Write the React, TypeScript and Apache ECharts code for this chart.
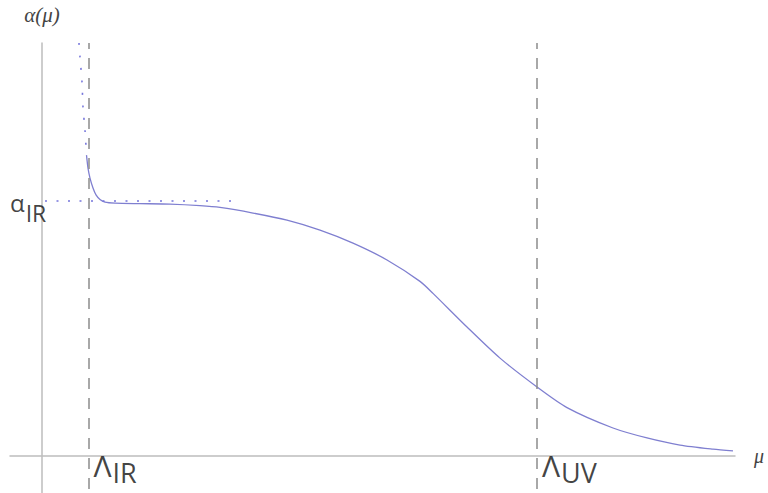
import React, { useEffect, useRef } from "react";
import * as echarts from "echarts";

// running coupling curve (mu in arbitrary units, alpha normalised to alpha_IR = 1)
const muCurve = [4.45, 4.6, 4.8, 5.1, 5.4, 5.8, 6.3, 7.3, 9.8, 12.8, 15.8, 17.8, 21.1, 24.5, 27.8, 31.1, 34.5, 37.8, 39.1, 42.5, 45.8, 49.5, 52.5, 57.1, 60.5, 63.8, 67.1, 69.1];
const alphaCurve = [1.18, 1.129, 1.09, 1.051, 1.024, 1.006, 0.996, 0.992, 0.99, 0.988, 0.982, 0.975, 0.953, 0.925, 0.886, 0.835, 0.769, 0.685, 0.638, 0.506, 0.384, 0.271, 0.19, 0.11, 0.071, 0.043, 0.027, 0.02];

// dotted continuation towards the IR
const muDotted = [3.7, 3.8, 4.0, 4.1, 4.3, 4.45];
const alphaDotted = [1.62, 1.565, 1.467, 1.369, 1.278, 1.18];

// alpha_IR plateau reference
const ALPHA_IR = 1;
const plateauMu = [0.3, 19.3];

// scales
const LAMBDA_IR = 4.65;
const LAMBDA_UV = 49.5;

const X_MIN = -3.2;
const X_MAX = 69.3;
const Y_MIN = -0.145;
const Y_MAX = 1.62;

export default function App() {
  const ref = useRef<HTMLDivElement>(null);
  useEffect(() => {
    if (!ref.current) return;
    const chart = echarts.init(ref.current, null, { renderer: "svg" });
    const curveColor = "#7f7fd0";
    const dotColor = "#7676dc";
    const sans = "Open Sans";
    const serif = "Liberation Serif";
    const subRich = (big: number, small: number, off: number) => ({
      a: { fontSize: big, lineHeight: big, verticalAlign: "top" as const, color: "#111", fontFamily: sans },
      b: { fontSize: small, lineHeight: small + off, verticalAlign: "bottom" as const, color: "#111", fontFamily: sans, padding: [0, 0, 0, 1] },
    });
    chart.setOption({
      animation: false,
      grid: { left: 10, right: 33, top: 43, bottom: 0 },
      xAxis: {
        type: "value",
        min: X_MIN,
        max: X_MAX,
        name: "μ",
        nameLocation: "end",
        nameGap: 19,
        nameTextStyle: { fontFamily: serif, fontStyle: "italic", fontSize: 20, color: "#444" },
        axisLine: { show: true, onZero: true, lineStyle: { color: "#bdbdbd", width: 1.5 } },
        axisTick: { show: false },
        axisLabel: { show: false },
        splitLine: { show: false },
      },
      yAxis: {
        type: "value",
        min: Y_MIN,
        max: Y_MAX,
        name: "α(μ)",
        nameLocation: "end",
        nameGap: 18,
        nameTextStyle: { fontFamily: serif, fontStyle: "italic", fontSize: 21, color: "#444" },
        axisLine: { show: true, onZero: true, lineStyle: { color: "#bdbdbd", width: 1.5 } },
        axisTick: { show: false },
        axisLabel: { show: false },
        splitLine: { show: false },
      },
      series: [
        {
          type: "line",
          data: muCurve.map((m, i) => [m, alphaCurve[i]]),
          showSymbol: false,
          smooth: 0.25,
          lineStyle: { color: curveColor, width: 1.3 },
          z: 3,
          markLine: {
            silent: true,
            symbol: "none",
            label: { show: false },
            lineStyle: { color: "#8c8c8c", width: 1.5, type: [11, 9], dashOffset: 16 },
            data: [{ xAxis: LAMBDA_IR }, { xAxis: LAMBDA_UV }],
          },
        },
        {
          type: "line",
          data: muDotted.map((m, i) => [m, alphaDotted[i]]),
          showSymbol: false,
          smooth: 0.3,
          lineStyle: { color: dotColor, width: 1.6, type: [2, 10.5] },
        },
        {
          type: "line",
          data: plateauMu.map((m) => [m, ALPHA_IR]),
          showSymbol: false,
          lineStyle: { color: dotColor, width: 1.6, type: [2, 9.5] },
        },
        {
          type: "scatter",
          symbolSize: 0,
          clip: false,
          silent: true,
          data: [
            {
              value: [X_MIN, 0.975],
              label: { show: true, position: "right", distance: 0, formatter: "{a|α}{b|IR}", rich: subRich(24, 23, 11) },
            },
            {
              value: [LAMBDA_IR, -0.048],
              label: { show: true, position: "right", distance: 5, formatter: "{a|Λ}{b|IR}", rich: subRich(30, 27, 8) },
            },
            {
              value: [LAMBDA_UV, -0.048],
              label: { show: true, position: "right", distance: 5, formatter: "{a|Λ}{b|UV}", rich: subRich(30, 27, 8) },
            },
          ],
        },
      ],
    });
    return () => chart.dispose();
  }, []);
  return <div ref={ref} style={{ position: "absolute", left: 0, top: 0, width: 768, height: 493 }} />;
}
